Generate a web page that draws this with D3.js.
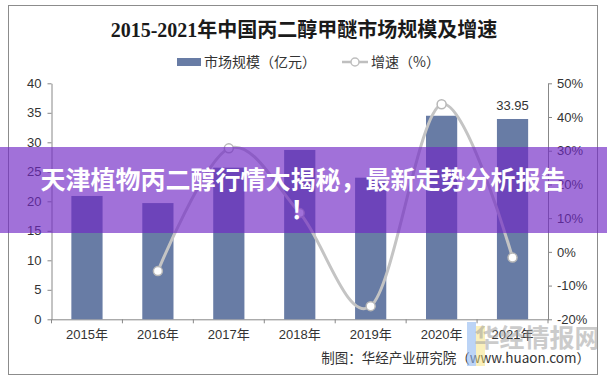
<!DOCTYPE html>
<html><head><meta charset="utf-8">
<script src="https://cdn.jsdelivr.net/npm/d3@7"></script>
<style>body{margin:0;background:#fff}svg{display:block}</style>
</head><body>
<svg id="c" width="607" height="382"></svg>
<script>
const years = ["2015年","2016年","2017年","2018年","2019年","2020年","2021年"];
const marketSize = [20.9, 19.7, 25.7, 28.7, 24.0, 34.5, 33.95];
const growth = [null, -5.7, 30.7, 11.5, -16.1, 43.8, -1.7];
const leftTicks = [0,5,10,15,20,25,30,35,40];
const rightTicks = [-20,-10,0,10,20,30,40,50];
const title = "2015-2021年中国丙二醇甲醚市场规模及增速";
const legendBar = "市场规模（亿元）";
const legendLine = "增速（%）";
const source = "制图：华经产业研究院（www.huaon.com）";
const bannerLines = ["天津植物丙二醇行情大揭秘，最新走势分析报告", "！"];

const svg = d3.select("#c");
const W = 607, H = 382;
const m = {l:51.5, r:59, t:83.3, b:62.7};
const x = d3.scaleBand().domain(years).range([m.l, W-m.r]).paddingInner(0.56).paddingOuter(0.28);
const yL = d3.scaleLinear().domain([0,40]).range([H-m.b, m.t]);
const yR = d3.scaleLinear().domain([-20,50]).range([H-m.b, m.t]);

// frame
svg.append("rect").attr("x",8.5).attr("y",5.5).attr("width",589).attr("height",369)
  .attr("fill","#fff").attr("stroke","#8c8c8c").attr("stroke-width",1);

// title
svg.append("text").attr("x",304).attr("y",37).attr("text-anchor","middle")
  .attr("font-family","'Liberation Serif','Noto Sans CJK SC',serif").attr("font-weight","bold")
  .attr("font-size",20).attr("fill","#1a1a1a").text(title);

// legend
const lg = svg.append("g").attr("font-family","'Noto Sans CJK SC','Liberation Sans',sans-serif").attr("font-size",14).attr("fill","#333");
lg.append("rect").attr("x",177).attr("y",58).attr("width",24).attr("height",8).attr("fill","#687ca5");
lg.append("text").attr("x",204).attr("y",67).text(legendBar);
lg.append("line").attr("x1",342).attr("x2",368).attr("y1",62).attr("y2",62).attr("stroke","#bfbfbf").attr("stroke-width",2.5);
lg.append("circle").attr("cx",355).attr("cy",62).attr("r",4).attr("fill","#fff").attr("stroke","#bfbfbf").attr("stroke-width",1.5);
lg.append("text").attr("x",371).attr("y",67).text(legendLine);

// axes
const axFont = "'Liberation Sans',Arial,sans-serif";
const gL = svg.append("g").attr("transform",`translate(${m.l},0)`)
  .call(d3.axisLeft(yL).tickValues(leftTicks).tickSize(4).tickPadding(6).tickSizeOuter(0));
const gR = svg.append("g").attr("transform",`translate(${W-m.r},0)`)
  .call(d3.axisRight(yR).tickValues(rightTicks).tickSize(4).tickPadding(5).tickSizeOuter(0).tickFormat(d=>d+"%"));
const gX = svg.append("g").attr("transform",`translate(0,${H-m.b})`)
  .call(d3.axisBottom(x).tickSize(0).tickPadding(10).tickSizeOuter(0));
svg.append("g").selectAll("line").data(d3.range(years.length+1)).join("line")
  .attr("x1",i=>m.l+i*(W-m.l-m.r)/years.length).attr("x2",i=>m.l+i*(W-m.l-m.r)/years.length)
  .attr("y1",H-m.b).attr("y2",H-m.b+4).attr("stroke","#888");
[gL,gR,gX].forEach(g=>{
  g.selectAll("path,line").attr("stroke","#888");
  g.selectAll("text").attr("font-family",axFont).attr("font-size",13).attr("fill","#333");
});
gX.selectAll("text").attr("font-family","'Liberation Sans','Noto Sans CJK SC',sans-serif");

// bars
svg.append("g").selectAll("rect").data(marketSize).join("rect")
  .attr("x",(d,i)=>x(years[i])).attr("width",x.bandwidth())
  .attr("y",d=>yL(d)).attr("height",d=>yL(0)-yL(d)).attr("fill","#687ca5");

// data label 2021
svg.append("text").attr("x",x(years[6])+x.bandwidth()/2).attr("y",yL(marketSize[6])-9)
  .attr("text-anchor","middle").attr("font-family",axFont).attr("font-size",13).attr("fill","#333")
  .text(marketSize[6].toFixed(2));

// growth line
const pts = growth.map((g,i)=>g==null?null:[x(years[i])+x.bandwidth()/2, yR(g)]).filter(p=>p);
svg.append("path").attr("d",d3.line().curve(d3.curveCardinal.tension(0))(pts))
  .attr("fill","none").attr("stroke","#c4c4c4").attr("stroke-width",3);
svg.append("g").selectAll("circle").data(pts).join("circle")
  .attr("cx",d=>d[0]).attr("cy",d=>d[1]).attr("r",4.5)
  .attr("fill","#fff").attr("stroke","#b8b8b8").attr("stroke-width",1.5);

// source
svg.append("text").attr("x",590).attr("y",363).attr("text-anchor","end")
  .attr("font-family","'Noto Sans CJK SC','Liberation Sans',sans-serif").attr("font-size",13.5).attr("fill","#333")
  .text(source);

// watermark
const wm = svg.append("g");
wm.append("rect").attr("x",467).attr("y",322).attr("width",9).attr("height",44).attr("fill","#8fb8f0").attr("opacity",0.6);
wm.append("rect").attr("x",476).attr("y",326).attr("width",9).attr("height",40).attr("fill","#f5e27a").attr("opacity",0.5);
wm.append("text").attr("x",537).attr("y",347).attr("text-anchor","middle")
  .attr("font-family","'Noto Sans CJK SC',sans-serif").attr("font-weight","bold").attr("font-size",25)
  .attr("fill","#999").attr("opacity",0.5).text("华经情报网");

// banner overlay
svg.append("rect").attr("x",0).attr("y",147).attr("width",W).attr("height",86)
  .attr("fill","rgb(112,40,198)").attr("opacity",0.66);
const bt = svg.append("g").attr("font-family","'Noto Sans CJK SC',sans-serif").attr("font-weight","bold")
  .attr("font-size",25).attr("fill","#fff").attr("text-anchor","middle");
bt.append("text").attr("x",303).attr("y",189).text(bannerLines[0]);
bt.append("text").attr("x",303).attr("y",219).text(bannerLines[1]);
</script>
</body></html>
